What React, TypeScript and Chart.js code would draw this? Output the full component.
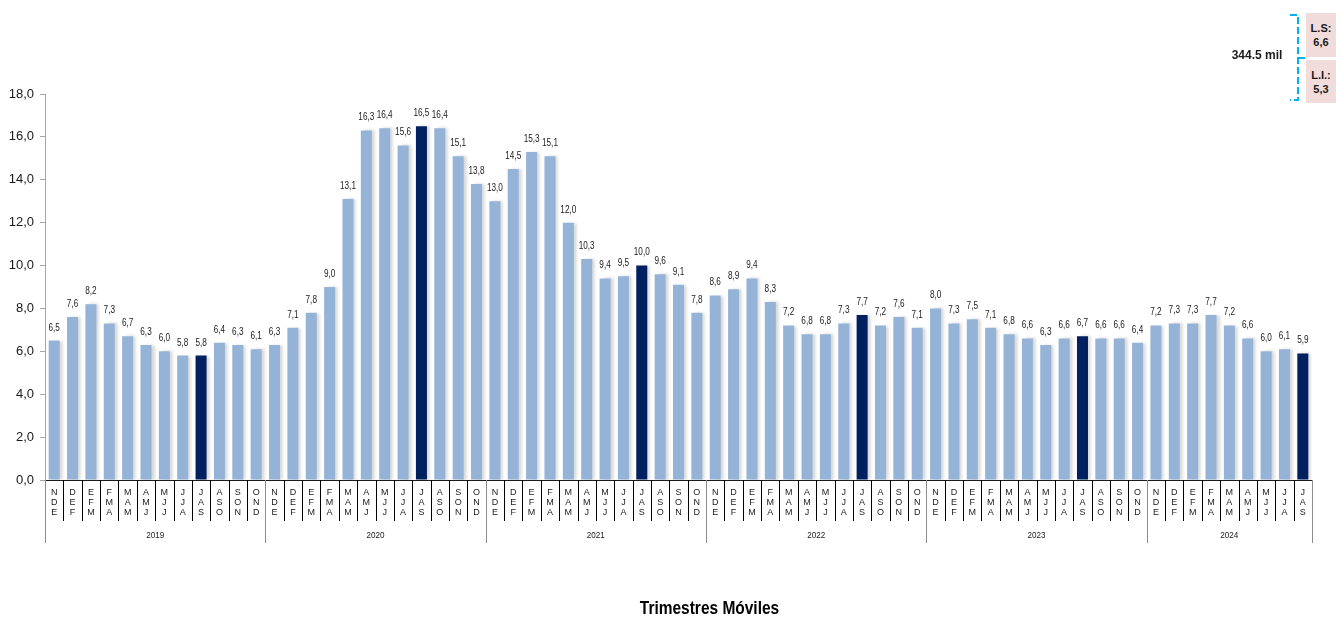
import React, { useEffect, useRef } from "react";
import { Chart, registerables } from "chart.js";

Chart.register(...registerables);

const years = ["2019", "2020", "2021", "2022", "2023", "2024"];
const periodsPerYear = [12, 12, 12, 12, 12, 9];
const triplets = [
  ["N", "D", "E"], ["D", "E", "F"], ["E", "F", "M"], ["F", "M", "A"],
  ["M", "A", "M"], ["A", "M", "J"], ["M", "J", "J"], ["J", "J", "A"],
  ["J", "A", "S"], ["A", "S", "O"], ["S", "O", "N"], ["O", "N", "D"],
];
const values = [
  6.5, 7.6, 8.2, 7.3, 6.7, 6.3, 6.0, 5.8, 5.8, 6.4, 6.3, 6.1,
  6.3, 7.1, 7.8, 9.0, 13.1, 16.3, 16.4, 15.6, 16.5, 16.4, 15.1, 13.8,
  13.0, 14.5, 15.3, 15.1, 12.0, 10.3, 9.4, 9.5, 10.0, 9.6, 9.1, 7.8,
  8.6, 8.9, 9.4, 8.3, 7.2, 6.8, 6.8, 7.3, 7.7, 7.2, 7.6, 7.1,
  8.0, 7.3, 7.5, 7.1, 6.8, 6.6, 6.3, 6.6, 6.7, 6.6, 6.6, 6.4,
  7.2, 7.3, 7.3, 7.7, 7.2, 6.6, 6.0, 6.1, 5.9,
];
const highlightIndex = 8; // JAS in each year
const yTicksMax = 18;
const yTicksStep = 2;

const categories: string[][] = [];
const barColors: string[] = [];
periodsPerYear.forEach((n) => {
  for (let i = 0; i < n; i++) {
    categories.push(triplets[i]);
    barColors.push(i === highlightIndex ? "#002060" : "#95B3D7");
  }
});

const FONT = "'Liberation Sans', Arial, sans-serif";
const fmt = (v: number) => v.toFixed(1).replace(".", ",");

const narrowText = (ctx: any, text: string, x: number, y: number, sx: number) => {
  ctx.save();
  ctx.translate(x, y);
  ctx.scale(sx, 1);
  ctx.fillText(text, 0, 0);
  ctx.restore();
};

const shadowPlugin = {
  id: "barShadow",
  beforeDatasetsDraw(chart: any) {
    const ctx = chart.ctx;
    ctx.save();
    ctx.shadowColor = "rgba(0,0,0,0.16)";
    ctx.shadowOffsetX = 3;
    ctx.shadowOffsetY = 0;
    ctx.shadowBlur = 3;
  },
  afterDatasetsDraw(chart: any) {
    chart.ctx.restore();
  },
};

const labelsPlugin = {
  id: "valueLabels",
  afterDraw(chart: any) {
    const ctx = chart.ctx;
    const meta = chart.getDatasetMeta(0);
    ctx.save();
    ctx.font = `10.5px ${FONT}`;
    ctx.fillStyle = "#1a1a1a";
    ctx.textAlign = "center";
    ctx.textBaseline = "middle";
    meta.data.forEach((el: any, i: number) => {
      narrowText(ctx, fmt(values[i]), el.x, el.y - 13, 0.78);
    });
    ctx.restore();
  },
};

const separatorsPlugin = {
  id: "axisSeparators",
  afterDraw(chart: any) {
    const ctx = chart.ctx;
    const xs = chart.scales.x;
    const n = categories.length;
    const w = (xs.right - xs.left) / n;
    const y0 = chart.chartArea.bottom;
    ctx.save();
    ctx.lineWidth = 1;
    const yearBounds = new Set<number>();
    let acc = 0;
    yearBounds.add(0);
    periodsPerYear.forEach((c) => {
      acc += c;
      yearBounds.add(acc);
    });
    for (let i = 0; i <= n; i++) {
      const x = Math.round(xs.getPixelForValue(Math.min(i, n - 1)) + (i === n ? w / 2 : -w / 2)) + 0.5;
      ctx.beginPath();
      if (yearBounds.has(i)) {
        ctx.strokeStyle = "#8c8c8c";
        ctx.moveTo(x, y0);
        ctx.lineTo(x, y0 + 63);
      } else {
        ctx.strokeStyle = "#000000";
        ctx.moveTo(x, y0);
        ctx.lineTo(x, y0 + 41);
      }
      ctx.stroke();
    }
    ctx.font = `9px ${FONT}`;
    ctx.fillStyle = "#1a1a1a";
    ctx.textAlign = "center";
    ctx.textBaseline = "middle";
    let start = 0;
    periodsPerYear.forEach((c, k) => {
      const left = xs.getPixelForValue(start) - w / 2;
      const right = xs.getPixelForValue(start + c - 1) + w / 2;
      narrowText(ctx, years[k], (left + right) / 2, y0 + 56, 0.9);
      start += c;
    });
    // axis title
    ctx.font = `bold 18px ${FONT}`;
    ctx.fillStyle = "#000";
    narrowText(ctx, "Trimestres Móviles", (xs.left + xs.right) / 2 + 31, 609, 0.86);
    ctx.restore();
  },
};

function Annotation() {
  const pink = "#F2DCDB";
  const boxText: React.CSSProperties = {
    position: "absolute",
    left: 1306,
    width: 30,
    background: pink,
    fontFamily: FONT,
    fontWeight: "bold",
    fontSize: 11,
    lineHeight: "14px",
    color: "#1a1a1a",
    textAlign: "center",
    display: "flex",
    flexDirection: "column",
    justifyContent: "center",
  };
  return (
    <>
      <div
        style={{
          position: "absolute",
          left: 1222,
          top: 48,
          width: 70,
          textAlign: "center",
          fontFamily: FONT,
          fontWeight: "bold",
          fontSize: 12,
          color: "#1a1a1a",
        }}
      >
        344.5 mil
      </div>
      <svg
        style={{ position: "absolute", left: 1286, top: 10, overflow: "visible" }}
        width={24}
        height={96}
      >
        <path
          d="M4 5 L12 5 L12 90 L4 90 M12 48 L21 48"
          fill="none"
          stroke="#00B0F0"
          strokeWidth={2}
          strokeDasharray="7 3"
        />
      </svg>
      <div style={{ ...boxText, top: 13, height: 44 }}>
        <span>L.S:</span>
        <span>6,6</span>
      </div>
      <div style={{ ...boxText, top: 60, height: 43 }}>
        <span>L.I.:</span>
        <span>5,3</span>
      </div>
    </>
  );
}

export default function App() {
  const ref = useRef<HTMLCanvasElement | null>(null);
  useEffect(() => {
    if (!ref.current) return;
    const chart = new Chart(ref.current, {
      type: "bar",
      data: {
        labels: categories,
        datasets: [
          {
            data: values,
            backgroundColor: barColors,
            borderWidth: 0,
            categoryPercentage: 1,
            barPercentage: 0.6,
          },
        ],
      },
      options: {
        responsive: false,
        maintainAspectRatio: false,
        animation: false,
        devicePixelRatio: 1,
        layout: { padding: { top: 94, right: 24, left: 0, bottom: 0 } },
        plugins: {
          legend: { display: false },
          tooltip: { enabled: false },
          title: { display: false },
        },
        scales: {
          x: {
            type: "category",
            offset: true,
            grid: { display: false, drawTicks: false },
            border: { display: true, color: "#1a1a1a", width: 1 },
            ticks: {
              autoSkip: false,
              maxRotation: 0,
              minRotation: 0,
              padding: 7,
              color: "#1a1a1a",
              font: { family: FONT, size: 9, lineHeight: 1.12 },
            },
            afterFit: (s: any) => {
              s.height = 139;
            },
          },
          y: {
            min: 0,
            max: yTicksMax,
            grid: {
              display: true,
              drawOnChartArea: false,
              drawTicks: true,
              tickLength: 5,
              color: "#a6a6a6",
            },
            border: { display: true, color: "#a6a6a6", width: 1 },
            ticks: {
              stepSize: yTicksStep,
              padding: 6,
              color: "#1a1a1a",
              font: { family: FONT, size: 13 },
              callback: (v: any) => fmt(Number(v)),
            },
            afterFit: (s: any) => {
              s.width = 45;
            },
          },
        },
      },
      plugins: [shadowPlugin, labelsPlugin, separatorsPlugin],
    } as any);
    return () => chart.destroy();
  }, []);

  return (
    <div style={{ position: "absolute", left: 0, top: 0, width: 1336, height: 619, background: "#fff" }}>
      <canvas ref={ref} width={1336} height={619} style={{ display: "block" }} aria-label="Trimestres Móviles" />
      <Annotation />
    </div>
  );
}
